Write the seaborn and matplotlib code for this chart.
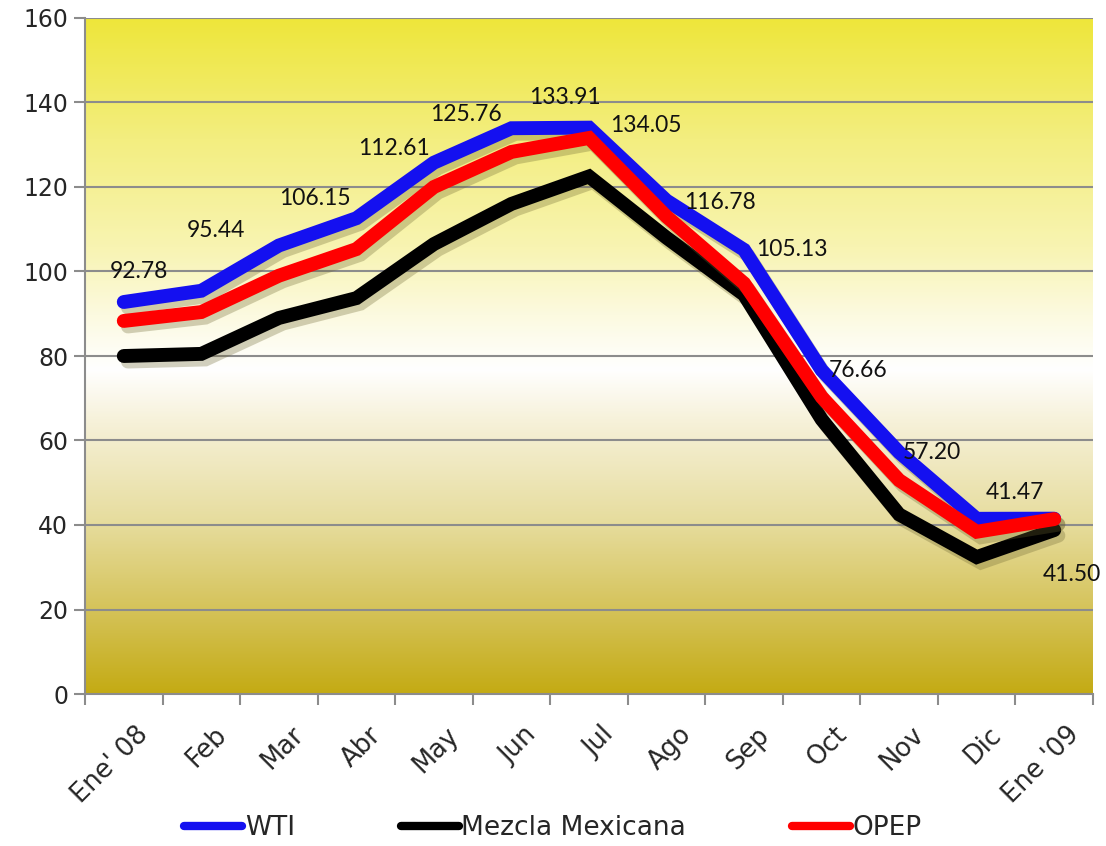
import numpy as np
import pandas as pd
import matplotlib
matplotlib.use("Agg")
import matplotlib.pyplot as plt
import matplotlib.patheffects as pe
import matplotlib.transforms as mtransforms
from matplotlib.colors import LinearSegmentedColormap
from matplotlib.lines import Line2D
import seaborn as sns

months = ["Ene' 08", "Feb", "Mar", "Abr", "May", "Jun", "Jul",
          "Ago", "Sep", "Oct", "Nov", "Dic", "Ene '09"]
wti = [92.78, 95.44, 106.15, 112.61, 125.76, 133.91, 134.05,
       116.78, 105.13, 76.66, 57.20, 41.47, 41.50]
mezcla = [80.0, 80.5, 89.0, 93.7, 106.5, 116.0, 122.5,
          108.0, 94.5, 65.0, 42.5, 32.4, 38.8]
opep = [88.3, 90.4, 99.0, 105.3, 120.0, 128.3, 131.6,
        113.0, 97.2, 70.3, 50.6, 38.4, 41.4]
wti_labels = ["92.78", "95.44", "106.15", "112.61", "125.76", "133.91", "134.05",
              "116.78", "105.13", "76.66", "57.20", "41.47", "41.50"]
# label offsets (pixels) from each WTI point
label_dx = [15, 15, 36, 38, 32, 53, 57, 53, 48, 37, 33, 38, 18]
label_dy = [31, 60, 47, 70, 48, 31, 2, -2, 0, 0, 0, 26, -56]

series_names = ["WTI", "Mezcla Mexicana", "OPEP"]
series_colors = ["#1410F0", "#000000", "#FF0000"]

df = pd.DataFrame({
    "mes": months * 3,
    "precio": wti + mezcla + opep,
    "serie": [s for s in series_names for _ in months],
})

sns.set_theme(style="white")
plt.rcParams["font.family"] = ["DejaVu Sans"]

fig = plt.figure(figsize=(11.06, 8.46), dpi=100)
ax = fig.add_axes([85 / 1106, 152 / 846, 1008 / 1106, 676 / 846])

# background gradient
grad = LinearSegmentedColormap.from_list("bg", [
    (0.0, "#C4AB14"), (0.125, "#D5C35A"), (0.25, "#E6DC9C"),
    (0.40, "#F6F1D8"), (0.48, "#FFFFFF"), (0.56, "#FCFAE0"),
    (0.66, "#F8F4B2"), (0.82, "#F3EE80"), (1.0, "#EEE63A")])
ax.imshow(np.linspace(0, 1, 256).reshape(-1, 1), aspect="auto", cmap=grad,
          origin="lower", extent=(-0.5, 12.5, 0, 160), zorder=0)

ax.set_axisbelow(True)
for y in range(20, 161, 20):
    ax.axhline(y, color="#8C8C8C", lw=1.5, zorder=1)

sns.lineplot(data=df, x="mes", y="precio", hue="serie", hue_order=series_names,
             palette=series_colors, linewidth=10, sort=False, legend=False,
             ax=ax, zorder=3)
for line in ax.get_lines()[-3:]:
    line.set_solid_capstyle("round")
    line.set_solid_joinstyle("miter")
    line.set_path_effects([pe.SimpleLineShadow(offset=(3, -4), shadow_color="#6b6430", alpha=0.3),
                           pe.Normal()])

for i, txt in enumerate(wti_labels):
    ax.annotate(txt, (i, wti[i]), xytext=(label_dx[i], label_dy[i]),
                textcoords="offset pixels", ha="center", va="center",
                fontsize=16.5, family=["Lato", "DejaVu Sans"], color="#111111", zorder=5)

ax.set_xlim(-0.5, 12.5)
ax.set_ylim(0, 160)
ax.set_yticks(range(0, 161, 20))
ax.tick_params(axis="y", labelsize=17, length=8, width=1.5, color="#8C8C8C",
               direction="out", left=True, pad=4)
ax.set_xticks(range(len(months)))
ax.set_xticklabels(months, rotation=45, ha="right", rotation_mode="anchor", fontsize=18.5)
ax.tick_params(axis="x", which="major", length=0, pad=20)
shift = mtransforms.ScaledTranslation(12 / 100, 0, fig.dpi_scale_trans)
for lbl in ax.get_xticklabels():
    lbl.set_transform(lbl.get_transform() + shift)
ax.set_xticks(np.arange(-0.5, 13, 1), minor=True)
ax.tick_params(axis="x", which="minor", length=8, width=1.5, color="#8C8C8C",
               direction="out", bottom=True)
ax.set_xlabel("")
ax.set_ylabel("")
for s in ["top", "right"]:
    ax.spines[s].set_visible(False)
for s in ["left", "bottom"]:
    ax.spines[s].set_color("#8C8C8C")
    ax.spines[s].set_linewidth(1.5)

handles = [Line2D([0], [0], color=c, lw=6, solid_capstyle="round") for c in series_colors]
fig.legend(handles, series_names, loc="center", bbox_to_anchor=(0.5, 18 / 846),
           ncol=3, frameon=False, fontsize=19, handlelength=2.2,
           handletextpad=0.1, columnspacing=4.0)

fig.savefig("out.png", dpi=100)
